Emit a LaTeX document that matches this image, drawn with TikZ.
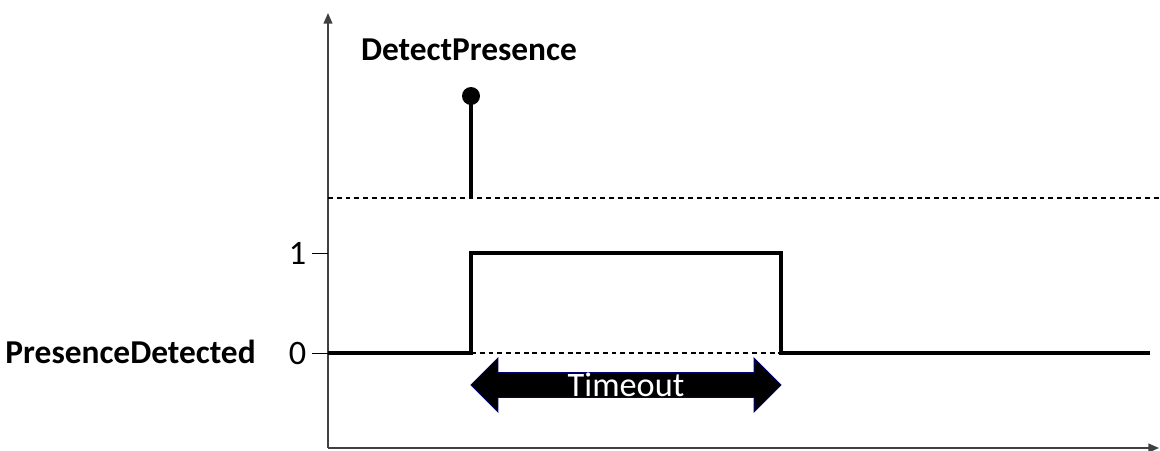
\documentclass[tikz,border=0pt]{standalone}
\usepackage{fontspec}
\setmainfont{Carlito}
\usetikzlibrary{arrows.meta,shapes.arrows}

\begin{document}
\begin{tikzpicture}[x=0.02cm, y=-0.02cm,
    axis/.style={draw=black!75, line width=0.8pt, -{Triangle[width=5pt,length=6pt]}},
    guide/.style={dash pattern=on 2.8pt off 2.2pt, line width=0.6pt},
    signal/.style={line width=2pt},
    tick/.style={line width=0.5pt},
    lbl/.style={font=\fontsize{19}{22}\selectfont\bfseries},
    num/.style={font=\fontsize{19.5}{22}\selectfont},]
    \useasboundingbox (0,0) rectangle (1160,450);
    % axes
    \coordinate (origin) at (328,448);
    \coordinate (ytop) at (328,13);
    \coordinate (xend) at (1159,448);
    \draw[axis] (origin) -- (ytop);
    \draw[axis] (origin) -- (xend);
    % ticks and levels
    \coordinate (one) at (328,253);
    \coordinate (zero) at (328,353);
    \draw[tick] (one) -- ++(-16,0) node[num, left, inner sep=3pt] (lone) {1};
    \draw[tick] (zero) -- ++(-16,0) node[num, left, inner sep=3pt] (lzero) {0};
    \node[lbl, anchor=east] (pdet) at (262,352) {PresenceDetected};
    % event
    \draw[guide] (328,198) -- (1160,198);
    \coordinate (stembase) at (471,198);
    \node[circle, fill=black, inner sep=0pt, minimum size=0.36cm] (dot) at (471,96) {};
    \draw[signal] (stembase) -- (dot.center);
    \node[lbl] (dpres) at (469,50) {DetectPresence};
    % output signal
    \coordinate (rise) at (471,353);
    \coordinate (fall) at (781,353);
    \draw[signal] (zero) -- (rise) -- (471,253) -- (781,253) -- (fall) -- (1150,353);
    \draw[guide] (rise) -- (fall);
    % timeout
    \node[double arrow, fill=black, draw=blue!45!black, line width=0.5pt,
          minimum width=0.56cm, double arrow head extend=0.29cm,
          minimum height=6.2cm, inner sep=0pt, text=white, num] (tout) at (626,385) {Timeout};
\end{tikzpicture}
\end{document}
